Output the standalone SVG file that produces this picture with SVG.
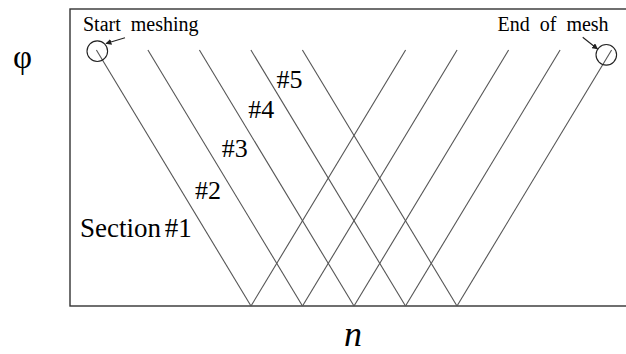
<svg xmlns="http://www.w3.org/2000/svg" width="626" height="354" viewBox="0 0 626 354">
<style>
text{font-family:'Liberation Serif','Times New Roman','DejaVu Serif',serif;fill:#000}
.ln{stroke:#555;stroke-width:1.1;fill:none}
.c{stroke:#222;stroke-width:1.1;fill:none}
.ar{stroke:#222;stroke-width:1.1;fill:none;marker-end:url(#ah)}
</style>
<defs>
<marker id="ah" viewBox="0 0 10 10" refX="9" refY="5" markerWidth="6" markerHeight="6" orient="auto" markerUnits="userSpaceOnUse">
<path d="M0,0 L10,5 L0,10 z" fill="#222"/>
</marker>
</defs>
<g id="frame">
<rect x="70" y="9" width="600" height="297" fill="#fff" stroke="#333" stroke-width="1.4"/>
</g>
<g id="connectors">
<line class="ln" x1="96.4" y1="50" x2="251" y2="306"/>
<line class="ln" x1="147.9" y1="50" x2="302.5" y2="306"/>
<line class="ln" x1="199.4" y1="50" x2="354" y2="306"/>
<line class="ln" x1="250.9" y1="50" x2="405.5" y2="306"/>
<line class="ln" x1="302.4" y1="50" x2="457" y2="306"/>
<line class="ln" x1="251" y1="306" x2="405.6" y2="50"/>
<line class="ln" x1="302.5" y1="306" x2="457.1" y2="50"/>
<line class="ln" x1="354" y1="306" x2="508.6" y2="50"/>
<line class="ln" x1="405.5" y1="306" x2="560.1" y2="50"/>
<line class="ln" x1="457" y1="306" x2="611.6" y2="50"/>
<line class="ar" x1="125" y1="37.7" x2="106" y2="43.5"/>
<line class="ar" x1="582.7" y1="37.3" x2="597.5" y2="49"/>
</g>
<g id="start-node">
<circle class="c" cx="97.3" cy="51.2" r="10.3"/>
<text x="83" y="30.7" font-size="20" word-spacing="5">Start meshing</text>
</g>
<g id="end-node">
<circle class="c" cx="606.3" cy="54.8" r="10.3"/>
<text x="497.5" y="30.7" font-size="20" word-spacing="5">End of mesh</text>
</g>
<g id="labels">
<text x="80" y="237.3" font-size="27" word-spacing="-3">Section #1</text>
<text x="195" y="199.3" font-size="26">#2</text>
<text x="221.7" y="157.3" font-size="26">#3</text>
<text x="248.3" y="118.3" font-size="26">#4</text>
<text x="276.5" y="88.3" font-size="26">#5</text>
<text x="13" y="68" font-size="33">φ</text>
<text x="344" y="346" font-size="36" font-style="italic">n</text>
</g>
</svg>
